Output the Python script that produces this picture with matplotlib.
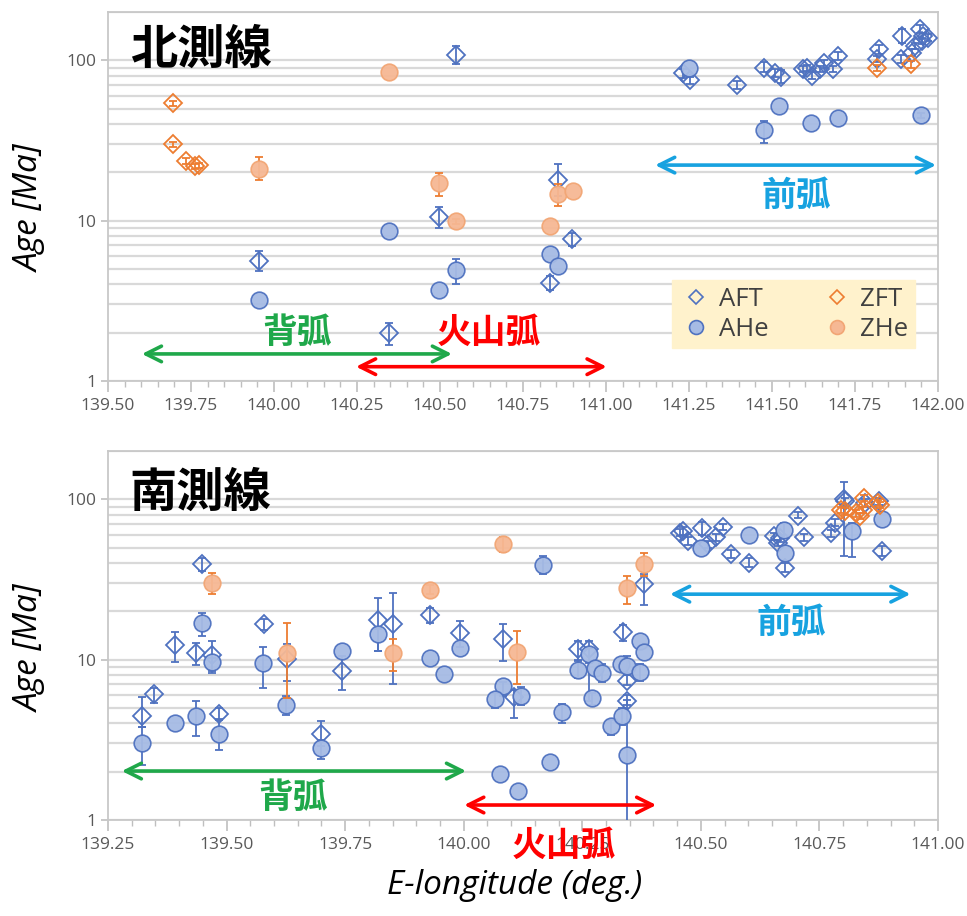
import numpy as np
import matplotlib
matplotlib.use("Agg")
import matplotlib.pyplot as plt
from matplotlib.lines import Line2D
from matplotlib.ticker import FixedLocator, NullFormatter, FixedFormatter

plt.rcParams['font.family'] = ['Open Sans', 'DejaVu Sans']
CJK = ['Noto Sans CJK JP', 'DejaVu Sans']
nan = np.nan

# ---------------- North line (北測線) ----------------
n_aft_x = [139.955, 140.347, 140.497, 140.548, 140.856, 140.899, 140.831, 141.233, 141.253, 141.396,
           141.476, 141.509, 141.526, 141.594, 141.604, 141.621, 141.645, 141.658, 141.685, 141.700,
           141.822, 141.817, 141.891, 141.889, 141.921, 141.931, 141.946, 141.956, 141.971, 141.951]
n_aft_y = [5.57, 1.99, 10.6, 108, 18.0, 7.68, 4.08, 83.0, 75.0, 70.1,
           90.0, 83.7, 79.1, 87.8, 90.0, 79.8, 87.8, 95.8, 87.8, 106.4,
           117, 101.5, 141.9, 102.4, 111.6, 123, 157.7, 141.9, 138.6, 132]
n_aft_lo = [4.83, 1.68, 9.0, 94.5, 14.2, 6.9, 3.70, 78, 71, 66,
            84, 79, 72, 84, 86, 76, 84, 90, 84, 101,
            110, 97, 128, 96, 106, 117, 148, 135, 132, 126]
n_aft_hi = [6.43, 2.29, 12.2, 122, 22.4, 8.4, 4.53, 88, 79, 74,
            97, 88, 87, 92, 94, 84, 92, 101, 92, 112,
            124, 106, 156, 108, 117, 129, 167, 149, 145, 138]

n_zft_x = [139.697, 139.697, 139.735, 139.762, 139.775, 141.817, 141.919]
n_zft_y = [53.8, 29.9, 23.5, 21.8, 22.2, 90.0, 94.4]
n_zft_lo = [51.5, 28.8, 22.5, 21.0, 21.4, 86, 90]
n_zft_hi = [56.0, 31.0, 24.5, 22.6, 23.0, 94, 99]

n_ahe_x = [139.955, 140.347, 140.548, 140.497, 140.831, 140.856, 141.251, 141.476, 141.522, 141.617, 141.698, 141.949]
n_ahe_y = [3.18, 8.58, 4.94, 3.70, 6.22, 5.18, 89.1, 36.5, 51.8, 40.8, 43.8, 45.3]
n_ahe_lo = [nan, nan, 4.04, nan, nan, nan, nan, 30.6, nan, nan, nan, 43.5]
n_ahe_hi = [nan, nan, 5.76, nan, nan, nan, nan, 41.8, nan, nan, nan, 47.0]

n_zhe_x = [139.955, 140.347, 140.497, 140.548, 140.854, 140.900, 140.831]
n_zhe_y = [21.1, 85.0, 17.2, 9.9, 14.7, 15.2, 9.21]
n_zhe_lo = [17.8, nan, 14.3, 9.5, 12.4, nan, nan]
n_zhe_hi = [24.9, nan, 19.9, 10.3, 17.0, nan, nan]

# ---------------- South line (南測線) ----------------
s_aft_x = [139.321, 139.348, 139.392, 139.435, 139.448, 139.469, 139.485, 139.578, 139.628, 139.700,
           139.744, 139.820, 139.851, 139.929, 139.993, 140.082, 140.107, 140.241, 140.264, 140.336,
           140.345, 140.345, 140.380, 140.463, 140.472, 140.457, 140.503, 140.516, 140.532, 140.546,
           140.564, 140.602, 140.654, 140.662, 140.667, 140.678, 140.704, 140.717, 140.775, 140.783,
           140.801, 140.803, 140.847, 140.876, 140.881]
s_aft_y = [4.43, 6.12, 12.3, 11.0, 39.3, 10.7, 4.60, 16.7, 10.1, 3.42,
           8.46, 17.7, 16.7, 18.9, 14.6, 13.4, 5.89, 11.6, 11.6, 14.9,
           7.41, 5.56, 29.8, 63.3, 54.9, 62.0, 65.8, 52.3, 58.1, 67.0,
           45.7, 40.2, 58.9, 53.5, 57.0, 37.4, 79.2, 58.1, 61.2, 71.3,
           101, 97.5, 94.9, 97.0, 47.5]
s_aft_lo = [3.80, 5.35, 9.7, 9.2, 35.9, 8.5, 4.2, 15.3, 7.4, 2.9,
            6.5, 11.4, 7.05, 17.0, 12.0, 9.8, 4.3, 10.0, 9.5, 13.0,
            6.9, 5.2, 21.9, 60, 52, 59, 60, 50, 55, 64,
            43, 38, 56, 51, 54, 35, 76, 55, 58, 68,
            44, 93, 90, 92, 44]
s_aft_hi = [5.89, 6.7, 14.9, 12.7, 43.0, 13.0, 5.0, 18.0, 12.6, 4.14,
            10.5, 24.4, 26.2, 21.0, 17.5, 16.6, 6.5, 13.0, 13.0, 16.5,
            8.0, 6.0, 34.0, 67, 58, 65, 72, 55, 61, 70,
            48, 43, 62, 56, 60, 40, 83, 61, 64, 75,
            128, 102, 100, 102, 51]

s_zft_x = [140.795, 140.803, 140.827, 140.836, 140.841, 140.845, 140.874, 140.878]
s_zft_y = [86, 84.2, 82.2, 78.4, 86, 102, 95, 92]
s_zft_lo = [82, 80, 78, 75, 82, 97, 91, 88]
s_zft_hi = [90, 88, 86, 82, 90, 107, 99, 96]

s_ahe_x = [139.321, 139.392, 139.435, 139.448, 139.469, 139.485, 139.576, 139.626, 139.700, 139.744,
           139.820, 139.929, 139.959, 139.993, 140.082, 140.067, 140.121, 140.167, 140.208, 140.181,
           140.077, 140.114, 140.241, 140.264, 140.276, 140.292, 140.270, 140.310, 140.332, 140.345,
           140.334, 140.345, 140.371, 140.380, 140.371, 140.500, 140.602, 140.676, 140.678, 140.819,
           140.881]
s_ahe_y = [3.02, 4.02, 4.45, 16.9, 9.62, 3.45, 9.49, 5.25, 2.81, 11.4,
           14.4, 10.2, 8.15, 11.75, 6.80, 5.70, 5.97, 38.7, 4.71, 2.30,
           1.93, 1.51, 8.67, 10.8, 8.88, 8.22, 5.75, 3.84, 9.40, 9.18,
           4.45, 2.53, 13.0, 11.1, 8.34, 49.4, 59.5, 64.2, 46.0, 63.3,
           75.5]
s_ahe_lo = [2.19, nan, 3.33, 14.0, 8.3, 2.72, 6.7, 4.5, 2.41, nan,
            11.4, nan, nan, nan, 5.9, 5.0, 5.18, 34, 4.0, nan,
            nan, nan, 7.7, 5.5, nan, 7.3, 5.2, 3.4, nan, 8.0,
            3.9, 0.5, nan, nan, 7.4, nan, nan, 57, nan, 43.7,
            nan]
s_ahe_hi = [3.80, nan, 5.56, 19.4, 10.2, 4.27, 12.0, 5.9, 3.15, nan,
            15.5, nan, nan, nan, 7.3, 6.2, 6.72, 44, 5.3, nan,
            nan, nan, 9.8, 11.8, nan, 9.4, 6.2, 4.2, nan, 10.5,
            5.0, 5.6, nan, nan, 9.4, nan, nan, 71, nan, 71,
            nan]

s_zhe_x = [139.469, 139.628, 139.851, 139.929, 140.082, 140.113, 140.344, 140.380]
s_zhe_y = [30.2, 10.95, 11.0, 27.1, 52.3, 11.1, 28.1, 39.3]
s_zhe_lo = [25.6, 5.8, 8.5, 25.5, 47, 7.05, 22.2, 33]
s_zhe_hi = [34.8, 17.0, 13.4, 29.0, 58, 15.0, 33.2, 46]

# ---------------- styles ----------------
BLUE_E = '#4F72C0'
BLUE_F = '#A6BBE4'
ORG_E = '#ED7D31'
ORG_F = '#F6B894'
ORG_FE = '#F2A675'
GRID = '#D9D9D9'
TICK = '#595959'

fig = plt.figure(figsize=(9.67, 9.16), dpi=100)
ax1 = fig.add_axes([108/967, 1-381/916, 830/967, 369/916])
ax2 = fig.add_axes([108/967, 1-820/916, 830/967, 369/916])


def series(ax, x, y, lo, hi, kind, z):
    x = np.asarray(x, float); y = np.asarray(y, float)
    lo = np.asarray(lo, float); hi = np.asarray(hi, float)
    m = np.isfinite(lo)
    ecol = BLUE_E if kind in ('AFT', 'AHe') else ORG_E
    if m.any():
        ax.errorbar(x[m], y[m], yerr=[y[m]-lo[m], hi[m]-y[m]], fmt='none', ecolor=ecol,
                    elinewidth=1.3, capsize=3, capthick=1.3, zorder=z)
    if kind == 'AFT':
        ax.plot(x, y, 'D', ms=9.5, mfc='none', mec=BLUE_E, mew=1.3, ls='none', zorder=z+0.5)
    elif kind == 'ZFT':
        ax.plot(x, y, 'D', ms=9.5, mfc='none', mec=ORG_E, mew=1.3, ls='none', zorder=z+0.5)
    elif kind == 'AHe':
        ax.plot(x, y, 'o', ms=12, mfc=BLUE_F, mec=BLUE_E, mew=1.2, ls='none', zorder=z+0.5, alpha=0.95)
    else:
        ax.plot(x, y, 'o', ms=12, mfc=ORG_F, mec=ORG_FE, mew=1.2, ls='none', zorder=z+0.5, alpha=0.95)


def style(ax, x0, x1, majors):
    ax.set_yscale('log')
    ax.set_ylim(1, 200)
    ax.set_xlim(x0, x1)
    ax.xaxis.set_major_locator(FixedLocator(majors))
    ax.xaxis.set_major_formatter(FixedFormatter(['%.2f' % v for v in majors]))
    minors = np.round(np.arange(x0, x1 + 1e-9, 0.05), 3)
    ax.xaxis.set_minor_locator(FixedLocator(minors))
    ax.yaxis.set_major_locator(FixedLocator([1, 10, 100]))
    ax.yaxis.set_major_formatter(FixedFormatter(['1', '10', '100']))
    ymin = [m * d for d in (1, 10, 100) for m in range(2, 10) if m * d <= 200]
    ax.yaxis.set_minor_locator(FixedLocator(ymin))
    ax.yaxis.set_minor_formatter(NullFormatter())
    ax.grid(True, which='both', axis='y', color=GRID, lw=1.6, zorder=0)
    ax.set_axisbelow(True)
    ax.tick_params(axis='x', which='major', length=8, width=1.2, color='#BFBFBF',
                   labelsize=12.5, labelcolor=TICK, pad=4)
    ax.tick_params(axis='x', which='minor', length=4, width=1.0, color='#BFBFBF')
    ax.tick_params(axis='y', which='major', length=5, width=1.2, color='#BFBFBF',
                   labelsize=12.5, labelcolor=TICK, pad=3)
    ax.tick_params(axis='y', which='minor', length=0)
    for s in ax.spines.values():
        s.set_color('#C8C8C8'); s.set_linewidth(1.3)


# north
series(ax1, n_aft_x, n_aft_y, n_aft_lo, n_aft_hi, 'AFT', 3)
series(ax1, n_ahe_x, n_ahe_y, n_ahe_lo, n_ahe_hi, 'AHe', 4)
series(ax1, n_zft_x, n_zft_y, n_zft_lo, n_zft_hi, 'ZFT', 5)
series(ax1, n_zhe_x, n_zhe_y, n_zhe_lo, n_zhe_hi, 'ZHe', 6)
style(ax1, 139.5, 142.0, [139.5, 139.75, 140.0, 140.25, 140.5, 140.75, 141.0, 141.25, 141.5, 141.75, 142.0])

# south
series(ax2, s_aft_x, s_aft_y, s_aft_lo, s_aft_hi, 'AFT', 3)
series(ax2, s_ahe_x, s_ahe_y, s_ahe_lo, s_ahe_hi, 'AHe', 4)
series(ax2, s_zft_x, s_zft_y, s_zft_lo, s_zft_hi, 'ZFT', 5)
series(ax2, s_zhe_x, s_zhe_y, s_zhe_lo, s_zhe_hi, 'ZHe', 6)
style(ax2, 139.25, 141.0, [139.25, 139.5, 139.75, 140.0, 140.25, 140.5, 140.75, 141.0])

GREEN = '#1FA84A'
RED = '#FF0000'
CYAN = '#17A2E0'


def arrow(ax, xa, xb, y, col):
    ax.annotate('', xy=(xa, y), xytext=(xb, y),
                arrowprops=dict(arrowstyle='<->', color=col, lw=2.6, mutation_scale=28,
                                shrinkA=0, shrinkB=0), zorder=8, annotation_clip=False)


def label(ax, x, y, s, col, fs=25):
    ax.text(x, y, s, color=col, fontsize=fs, fontweight='bold', family=CJK,
            ha='center', va='center', zorder=9, clip_on=False)


# north annotations
arrow(ax1, 139.602, 140.536, 1.475, GREEN)
arrow(ax1, 140.247, 141.002, 1.228, RED)
arrow(ax1, 141.148, 141.994, 22.2, CYAN)
label(ax1, 140.069, 2.02, '背弧', GREEN)
label(ax1, 140.648, 2.02, '火山弧', RED)
label(ax1, 141.572, 14.3, '前弧', CYAN)
ax1.text(0.112, 0.897, '北測線', transform=ax1.transAxes, fontsize=34, fontweight='bold',
         family=CJK, ha='center', va='center', color='black', zorder=9)

# south annotations
arrow(ax2, 139.279, 140.005, 2.02, GREEN)
arrow(ax2, 140.001, 140.406, 1.24, RED)
arrow(ax2, 140.435, 140.942, 25.6, CYAN)
label(ax2, 139.639, 1.39, '背弧', GREEN)
label(ax2, 140.212, 0.69, '火山弧', RED)
label(ax2, 140.690, 17.0, '前弧', CYAN)
ax2.text(0.111, 0.886, '南測線', transform=ax2.transAxes, fontsize=34, fontweight='bold',
         family=CJK, ha='center', va='center', color='black', zorder=9)

# legend
handles = [
    Line2D([], [], marker='D', ls='none', ms=7, mfc='none', mec=BLUE_E, mew=1.2, label='AFT'),
    Line2D([], [], marker='o', ls='none', ms=10, mfc=BLUE_F, mec=BLUE_E, mew=1.2, label='AHe'),
    Line2D([], [], marker='D', ls='none', ms=7, mfc='none', mec=ORG_E, mew=1.2, label='ZFT'),
    Line2D([], [], marker='o', ls='none', ms=10, mfc=ORG_F, mec=ORG_FE, mew=1.2, label='ZHe'),
]
leg = ax1.legend(handles=handles, ncol=2, loc='lower left',
                 bbox_to_anchor=(0.680, 0.089, 0.292, 0.212), mode='expand',
                 fontsize=18.5, frameon=True, fancybox=False, facecolor='#FFF2CC',
                 edgecolor='#FFF2CC', framealpha=1, handletextpad=0.25, labelspacing=0.2,
                 borderaxespad=0, columnspacing=0.8, handlelength=1.3, borderpad=0.25)
for t in leg.get_texts():
    t.set_color('#404040')
leg.set_zorder(7)

fig.text(30/967, 1-208/916, 'Age [Ma]', rotation=90, fontsize=24, style='italic',
         ha='center', va='center')
fig.text(30/967, 1-648/916, 'Age [Ma]', rotation=90, fontsize=24, style='italic',
         ha='center', va='center')
fig.text(515/967, 1-886/916, 'E-longitude (deg.)', fontsize=24, style='italic',
         ha='center', va='center')

fig.savefig('out.png', dpi=100)
